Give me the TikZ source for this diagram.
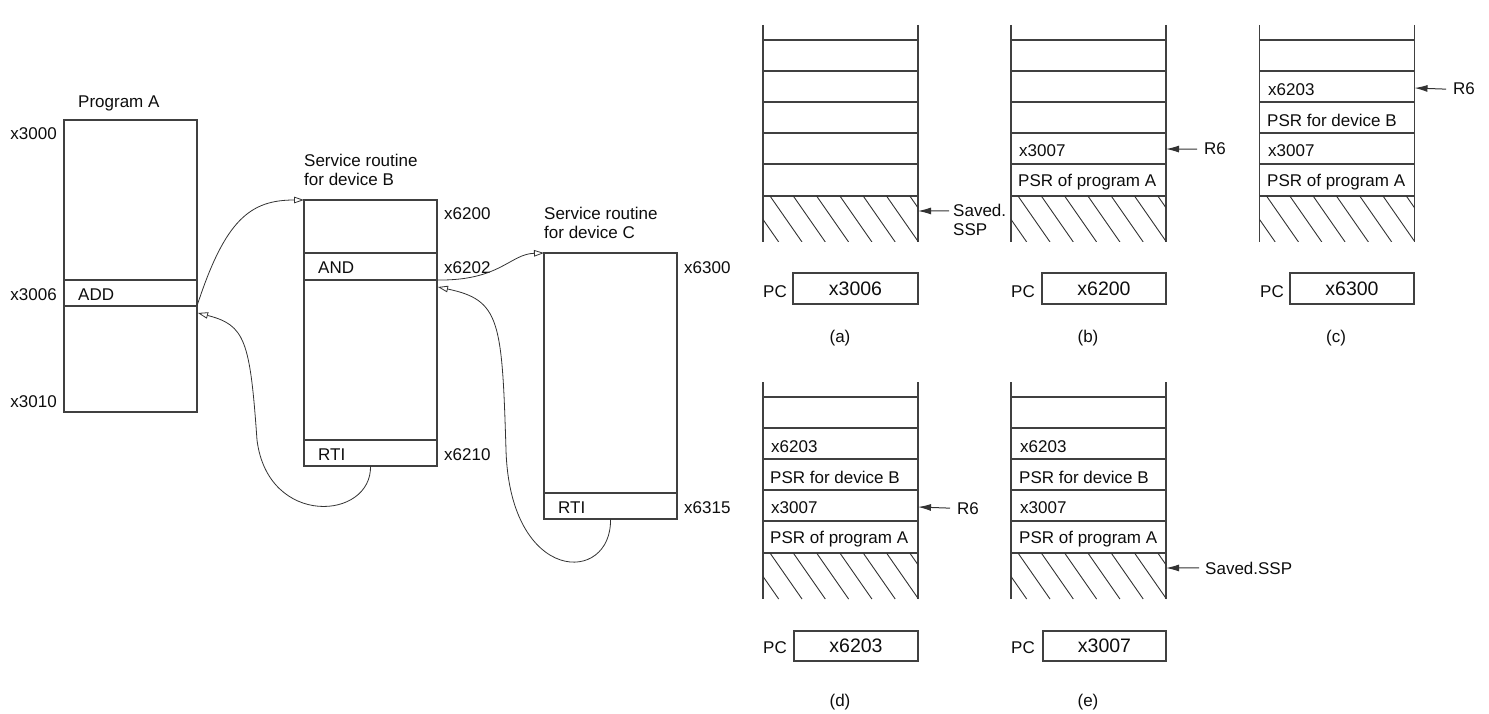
\documentclass[tikz,border=0pt]{standalone}
\usepackage{fontspec}
\setmainfont{Liberation Sans}
\usetikzlibrary{arrows.meta}
\newcommand{\drawstack}[2]{%
  \begin{scope}[shift={(#1,#2)}]
    \draw[ln] (0,0) -- (0,217) (155,0) -- (155,217);
    \foreach \yy in {15,46,77,108,139,171} \draw[ln] (0,\yy) -- (155,\yy);
    \begin{scope}
      \clip (0,171) rectangle (155,217);
      \foreach \k in {-1,...,6} \draw[hatch] ({7+23.3*\k},171) -- ({39+23.3*\k},217);
    \end{scope}
  \end{scope}}
\begin{document}
\begin{tikzpicture}[x=1pt,y=-1pt,
  ln/.style={draw=black!75,line width=1.1pt},
  box/.style={draw=black!75,line width=1.1pt,inner sep=0pt,outer sep=0pt},
  txt/.style={inner sep=0pt,font=\fontsize{17}{20}\selectfont,text=black!95},
  big/.style={inner sep=0pt,font=\fontsize{19.5}{22}\selectfont,text=black!95},
  flow/.style={draw=black!80,line width=0.8pt,-{Triangle[open,length=10pt,width=6.5pt]}},
  ptr/.style={draw=black!80,line width=1pt,-{Latex[length=13pt,width=7pt]}},
  hatch/.style={draw=black!80,line width=0.9pt}]
\useasboundingbox (0,0) rectangle (1489,714);

% ---------- Program A ----------
\node[box,minimum width=133pt,minimum height=292pt] (progA) at (130.5,266) {};
\draw[ln] (64,280) -- (197,280) (64,306) -- (197,306);
\node[txt,anchor=base west] (tA) at (78,108) {Program A};
\node[txt,anchor=base east] (a3000) at (57,140) {x3000};
\node[txt,anchor=base east] (a3006) at (57,300) {x3006};
\node[txt,anchor=base east] (a3010) at (57,407) {x3010};
\node[txt,anchor=base west] (add) at (78,300) {ADD};
\coordinate (addR) at (197,306);
\coordinate (retA) at (198,313);

% ---------- Service routine B ----------
\node[box,minimum width=133pt,minimum height=266pt] (progB) at (370.5,333) {};
\draw[ln] (304,253) -- (437,253) (304,280) -- (437,280) (304,440) -- (437,440);
\node[txt,anchor=base west] (tB1) at (304,167) {Service routine};
\node[txt,anchor=base west] (tB2) at (304,186) {for device B};
\node[txt,anchor=base west] (b6200) at (444,220) {x6200};
\node[txt,anchor=base west] (b6202) at (444,273) {x6202};
\node[txt,anchor=base west] (b6210) at (444,460) {x6210};
\node[txt,anchor=base west] (andB) at (318,273) {AND};
\node[txt,anchor=base west] (rtiB) at (318,460) {RTI};
\coordinate (andOut) at (437,280);
\coordinate (retB) at (438,287);

% ---------- Service routine C ----------
\node[box,minimum width=133pt,minimum height=266pt] (progC) at (610.5,386) {};
\draw[ln] (544,493) -- (677,493);
\node[txt,anchor=base west] (tC1) at (544,220) {Service routine};
\node[txt,anchor=base west] (tC2) at (544,239) {for device C};
\node[txt,anchor=base west] (c6300) at (684,273) {x6300};
\node[txt,anchor=base west] (c6315) at (684,513) {x6315};
\node[txt,anchor=base west] (rtiC) at (558,513) {RTI};

% ---------- flow arrows ----------
\draw[flow] (addR) .. controls (225,220) and (250,200) .. (progB.north west);
\draw[flow] (progB.south) .. controls (372,520) and (268,528) .. (257,440)
            .. controls (250,340) and (245,325) .. (retA);
\draw[flow] (andOut) .. controls (500,281) and (510,254) .. (progC.north west);
\draw[flow] (progC.south) .. controls (612,585) and (510,585) .. (506,450)
            .. controls (502,320) and (500,300) .. (retB);

% ---------- stacks ----------
\drawstack{763}{25}
\drawstack{1011}{25}
\drawstack{1259.5}{25}
\drawstack{763}{382}
\drawstack{1011}{382}

% (a)
\node[txt,anchor=base west] (aS1) at (953,217) {Saved.};
\node[txt,anchor=base west] (aS2) at (953,236) {SSP};
\coordinate (aEdge) at (918,211);
\draw[ptr] ([xshift=-4pt]aS1.west) -- (aEdge);
\node[txt,anchor=base west] (aPC) at (763,297) {PC};
\node[box,big,minimum width=125pt,minimum height=31pt] (aPCv) at (855.5,288.5) {x3006};
\node[txt,anchor=base] (capA) at (840,342) {(a)};

% (b)
\node[txt,anchor=base west] (b1) at (1019,157) {x3007};
\node[txt,anchor=base west] (b2) at (1018,187) {PSR of program A};
\node[txt,anchor=base west] (bR6) at (1204,155) {R6};
\coordinate (bEdge) at (1166,149);
\draw[ptr] ([xshift=-7pt]bR6.west) -- (bEdge);
\node[txt,anchor=base west] (bPC) at (1011,297) {PC};
\node[box,big,minimum width=124pt,minimum height=31pt] (bPCv) at (1104,288.5) {x6200};
\node[txt,anchor=base] (capB) at (1088,342) {(b)};

% (c)
\node[txt,anchor=base west] (c1) at (1268,96) {x6203};
\node[txt,anchor=base west] (c2) at (1267,127) {PSR for device B};
\node[txt,anchor=base west] (c3) at (1268,157) {x3007};
\node[txt,anchor=base west] (c4) at (1267,187) {PSR of program A};
\node[txt,anchor=base west] (cR6) at (1453,95) {R6};
\coordinate (cEdge) at (1414.5,88);
\draw[ptr] ([xshift=-7pt]cR6.west) -- (cEdge);
\node[txt,anchor=base west] (cPC) at (1260,297) {PC};
\node[box,big,minimum width=124pt,minimum height=31pt] (cPCv) at (1352,288.5) {x6300};
\node[txt,anchor=base] (capC) at (1336,342) {(c)};

% (d)
\node[txt,anchor=base west] (d1) at (771,452) {x6203};
\node[txt,anchor=base west] (d2) at (770,483) {PSR for device B};
\node[txt,anchor=base west] (d3) at (771,513) {x3007};
\node[txt,anchor=base west] (d4) at (770,543) {PSR of program A};
\node[txt,anchor=base west] (dR6) at (957,514) {R6};
\coordinate (dEdge) at (918,507);
\draw[ptr] ([xshift=-7pt]dR6.west) -- (dEdge);
\node[txt,anchor=base west] (dPC) at (763,653) {PC};
\node[box,big,minimum width=124pt,minimum height=30pt] (dPCv) at (856,646) {x6203};
\node[txt,anchor=base] (capD) at (840,706) {(d)};

% (e)
\node[txt,anchor=base west] (e1) at (1020,452) {x6203};
\node[txt,anchor=base west] (e2) at (1019,483) {PSR for device B};
\node[txt,anchor=base west] (e3) at (1020,513) {x3007};
\node[txt,anchor=base west] (e4) at (1019,543) {PSR of program A};
\node[txt,anchor=base west] (eS) at (1205,574) {Saved.SSP};
\coordinate (eEdge) at (1166,568);
\draw[ptr] ([xshift=-6pt]eS.west) -- (eEdge);
\node[txt,anchor=base west] (ePC) at (1011,653) {PC};
\node[box,big,minimum width=123pt,minimum height=30pt] (ePCv) at (1104.5,646) {x3007};
\node[txt,anchor=base] (capE) at (1088,706) {(e)};
\end{tikzpicture}
\end{document}
